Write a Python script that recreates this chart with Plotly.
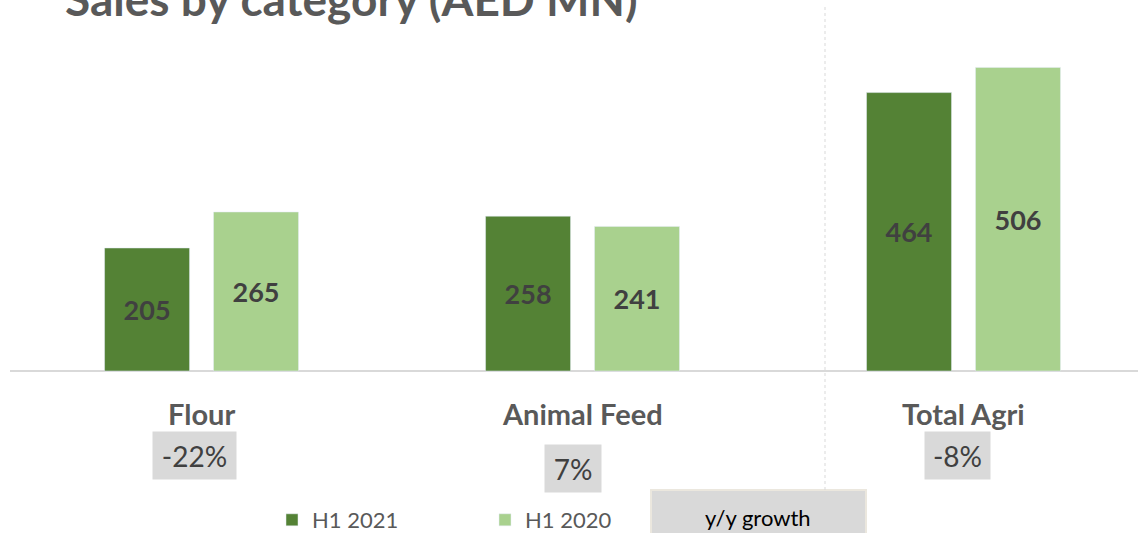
import plotly.graph_objects as go

categories = ["Flour", "Animal Feed", "Total Agri"]
h1_2021 = [205, 258, 464]
h1_2020 = [265, 241, 506]
growth = ["-22%", "7%", "-8%"]

W, H = 1138, 533
DARK = "#548235"
LIGHT = "#a9d18e"
FONT = "Lato"

def px_x(p):
    return p / W

def px_y(p):
    return 1 - p / H

fig = go.Figure()
for name, vals, col in [("H1 2021", h1_2021, DARK), ("H1 2020", h1_2020, LIGHT)]:
    fig.add_trace(go.Bar(
        name=name, x=categories, y=vals, marker_color=col,
        text=vals, textposition="inside", insidetextanchor="middle",
        textfont=dict(family=FONT, size=27, color="#404040", weight="bold"),
        cliponaxis=False,
    ))

annotations = []
annotations.append(dict(
    text="<b>Sales by category (AED MN)</b>", xref="paper", yref="paper",
    x=px_x(63), y=px_y(17), xanchor="left", yanchor="bottom", yshift=-11,
    showarrow=False, font=dict(family=FONT, size=46, color="#595959"),
))
for c in categories:
    annotations.append(dict(
        text=f"<b>{c}</b>", x=c, y=-70, xref="x", yref="y", yanchor="middle",
        showarrow=False, font=dict(family=FONT, size=29, color="#595959"),
    ))
gy = [-140, -163, -140]
gxs = [-7, -9.5, -6]
gw = [83, 56, 65]
for c, g, yy, xs, w in zip(categories, growth, gy, gxs, gw):
    annotations.append(dict(
        text=g, x=c, y=yy, xref="x", yref="y", xshift=xs, yanchor="middle",
        showarrow=False, bgcolor="#d9d9d9", borderpad=0, width=w, height=47,
        font=dict(family=FONT, size=28, color="#404040"),
    ))
annotations.append(dict(
    text="y/y growth", xref="paper", yref="paper", x=px_x(758), y=px_y(517),
    xanchor="center", yanchor="middle",
    showarrow=False, font=dict(family=FONT, size=22, color="#000000"),
))

shapes = [
    dict(type="line", xref="paper", yref="y", x0=px_x(10), x1=1, y0=0, y1=0,
         line=dict(color="#d9d9d9", width=2), layer="below"),
    dict(type="line", xref="paper", yref="paper", x0=px_x(825), x1=px_x(825),
         y0=px_y(7), y1=px_y(490), line=dict(color="#d9d9d9", width=1, dash="dot")),
    dict(type="rect", xref="paper", yref="paper", x0=px_x(651), x1=px_x(866),
         y0=px_y(550), y1=px_y(490), fillcolor="#d9d9d9",
         line=dict(color="#ebe7de", width=2), layer="below"),
]

fig.update_layout(
    width=W, height=H, margin=dict(l=0, r=0, t=0, b=0, autoexpand=False),
    paper_bgcolor="white", plot_bgcolor="white",
    barmode="group", bargap=0.428, bargroupgap=0.22,
    xaxis=dict(range=[-0.529, 2.458], showticklabels=False, showgrid=False,
               zeroline=False, showline=False, fixedrange=True),
    yaxis=dict(range=[-270, 618.3], showticklabels=False, showgrid=False,
               zeroline=False, showline=False, fixedrange=True),
    showlegend=True,
    legend=dict(orientation="h", x=px_x(272), y=px_y(520), yanchor="middle",
                xanchor="left", entrywidth=168, entrywidthmode="pixels",
                itemwidth=30, font=dict(family=FONT, size=22, color="#595959"),
                bgcolor="rgba(0,0,0,0)"),
    annotations=annotations, shapes=shapes,
)

fig.write_html("out.html", config={"displayModeBar": False},
               post_script="document.body.style.margin='0';document.body.style.overflow='hidden';")
